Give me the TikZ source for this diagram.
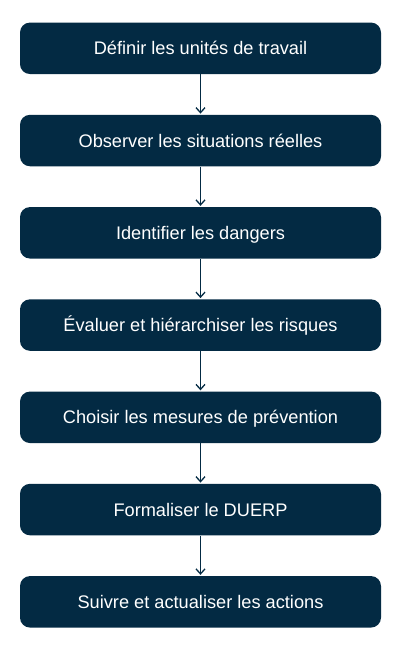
\documentclass[tikz,border=0pt]{standalone}
\usepackage{fontspec}
\setmainfont{Liberation Sans}
\usetikzlibrary{arrows.meta}
\definecolor{navy}{HTML}{032A43}
\tikzset{
  stepbox/.style={draw=none, fill=navy, rounded corners=10pt, minimum width=361pt, minimum height=51.5pt, text=white, font=\fontsize{18.2pt}{20pt}\selectfont, inner sep=0pt, text height=13pt, text depth=0pt},
  flow/.style={draw=navy, line width=1.3pt, -{Straight Barb[length=5pt,width=9pt,line width=1.3pt]}, shorten >=1pt}
}
\begin{document}
\begin{tikzpicture}[x=1pt,y=1pt]
\useasboundingbox (0,0) rectangle (401,-650);
\node[stepbox] (s1) at (200.5,-48.3) {Définir les unités de travail};
\node[stepbox] (s2) at (200.5,-140.55) {Observer les situations réelles};
\node[stepbox] (s3) at (200.5,-232.8) {Identifier les dangers};
\node[stepbox] (s4) at (200.5,-325.05) {Évaluer et hiérarchiser les risques};
\node[stepbox] (s5) at (200.5,-417.3) {Choisir les mesures de prévention};
\node[stepbox] (s6) at (200.5,-509.55) {Formaliser le DUERP};
\node[stepbox] (s7) at (200.5,-601.8) {Suivre et actualiser les actions};
\draw[flow] (s1) -- (s2);
\draw[flow] (s2) -- (s3);
\draw[flow] (s3) -- (s4);
\draw[flow] (s4) -- (s5);
\draw[flow] (s5) -- (s6);
\draw[flow] (s6) -- (s7);
\end{tikzpicture}
\end{document}
